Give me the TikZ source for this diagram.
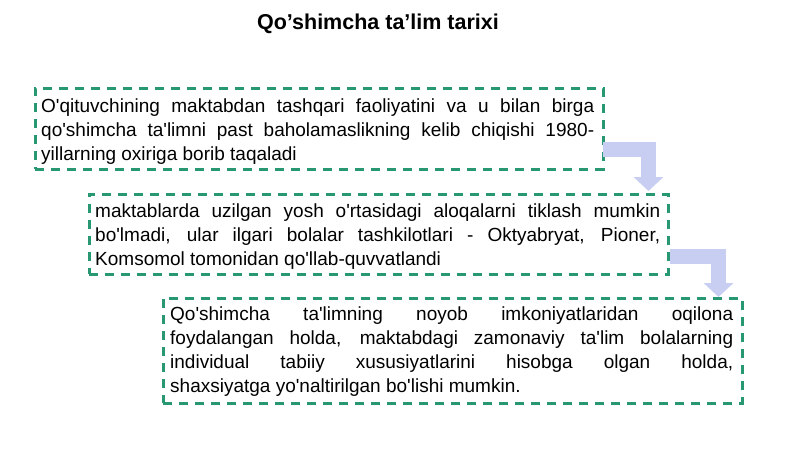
\documentclass[tikz,border=0pt]{standalone}
\usepackage{fontspec}
\setmainfont{Liberation Sans}[Ligatures=TeXOff]
\usetikzlibrary{calc,arrows.meta}
\definecolor{boxgreen}{RGB}{40,152,115}
\definecolor{arrowblue}{RGB}{200,205,242}
\tikzset{
  dashbox/.style={draw=boxgreen, line width=2.5pt, dash pattern=on 9pt off 7pt, fill=white, inner sep=0pt, anchor=north west},
  boxtext/.style={anchor=north west, inner sep=0pt, align=justify, font=\fontsize{19}{24}\selectfont,
    execute at begin node={\hyphenpenalty=10000 \tolerance=9999 \emergencystretch=20pt \hbadness=10000}},
  bentarrow/.style={draw=arrowblue, line width=15pt, line join=miter, -{Triangle[width=29pt,length=14pt]}},
}
\begin{document}
\begin{tikzpicture}[x=1pt,y=-1pt]
\useasboundingbox (0,0) rectangle (800,450);
\node[anchor=base, font=\bfseries\fontsize{21.5}{24}\selectfont] (title) at (378,29) {Qo’shimcha ta’lim tarixi};

\node[dashbox, minimum width=568pt, minimum height=81pt] (b1) at (34,87) {};
\node[dashbox, minimum width=579pt, minimum height=80pt] (b2) at (88,193) {};
\node[dashbox, minimum width=579pt, minimum height=105pt] (b3) at (162,297) {};

\node[boxtext, text width=553pt] (t1) at (41,99) {O'qituvchining maktabdan tashqari faoliyatini va u bilan birga qo'shimcha ta'limni past baholamaslikning kelib chiqishi 1980-yillarning oxiriga borib taqaladi};
\node[boxtext, text width=565pt] (t2) at (95,204) {maktablarda uzilgan yosh o'rtasidagi aloqalarni tiklash mumkin bo'lmadi, ular ilgari bolalar tashkilotlari - Oktyabryat, Pioner, Komsomol tomonidan qo'llab-quvvatlandi};
\node[boxtext, text width=563pt] (t3) at (170,307) {Qo'shimcha ta'limning noyob imkoniyatlaridan oqilona\linebreak foydalangan holda, maktabdagi zamonaviy ta'lim bolalarning\linebreak individual tabiiy xususiyatlarini hisobga olgan holda,\linebreak shaxsiyatga yo'naltirilgan bo'lishi mumkin.};

\draw[bentarrow] ($(b1.east)+(-2,21)$) -| ($(b2.north east)+(-21,-2)$);
\draw[bentarrow] ($(b2.east)+(0,22)$) -| ($(b3.north east)+(-25,0)$);
\end{tikzpicture}
\end{document}
